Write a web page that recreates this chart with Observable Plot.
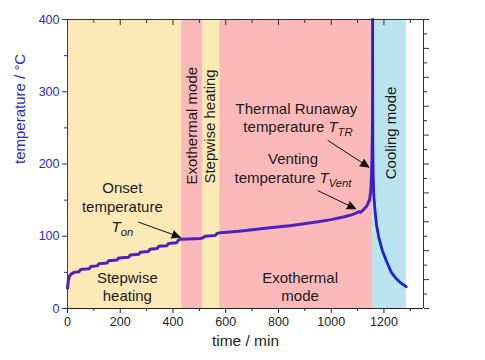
<!DOCTYPE html>
<html><head><meta charset="utf-8">
<script src="https://cdn.jsdelivr.net/npm/d3@7"></script>
<script src="https://cdn.jsdelivr.net/npm/@observablehq/plot@0.6"></script>
<style>body{margin:0;background:#fff;font-family:"Liberation Sans",Arial,sans-serif}</style>
</head><body><div id="chart"></div>
<script>
// Background regions (time in min)
const regionStart = [0, 433, 512, 578, 1157];
const regionEnd   = [433, 512, 578, 1157, 1285];
const regionMode  = ["heating", "exothermal", "heating", "exothermal", "cooling"];

// Temperature curve during heating / exothermal phases
const heatTime = [0,3,8,15,25,44,50,82,88,113,119,150,156,188,194,232,238,270,276,307,313,340,346,377,383,414,421,433,505,514,522,560,568,580,650,750,850,950,1000,1050,1080,1100,1106,1111,1120,1135,1145,1150,1153,1155,1156.5];
const heatTemp = [28,38,45,48,50,51,54,55,58,59,62,63,66,67,70,71,74,75,78,79,82,83,86,87,90,91,95,96,97,98,100,101,104,105,107,111,115,120,123,127,130,133,134,133,136,142,150,162,185,215,250];

// Thermal runaway spike and cooling
const coolTime = [1156.5,1157,1157,1157.3,1157.8,1159,1161,1165,1172,1182,1194,1210,1228,1245,1265,1285];
const coolTemp = [250,330,400,300,230,185,160,140,115,96,80,65,50,42,35,30];

// Ticks
const xTicks = [0,200,400,600,800,1000,1200];
const xMinor = [100,300,500,700,900,1100,1300];
const yTicks = [0,100,200,300,400];
const yMinor = [50,150,250,350];
const rightTicks = [0,40,80,120,160,200,240,280,320,360,400];
const rightMinor = [20,60,100,140,180,220,260,300,340,380];

// Annotation text (horizontal)
const labelText = ["Onset","temperature","T_on","Stepwise","heating","Thermal Runaway","temperature T_TR","Venting","temperature T_Vent","Exothermal","mode"];
const labelTime = [208,208,208,227,227,868,874,855,855,882,882];
const labelTemp = [166,140,112.5,42.5,16.6,276,251,206,180,42,16.6];

// Annotation text (vertical)
const vText = ["Exothermal mode","Stepwise heating","Cooling mode"];
const vTime = [472,541,1228];
const vTemp = [253,252,243];

// Arrows
const arrowT1 = [270, 988, 950];
const arrowY1 = [119.4, 232.5, 163];
const arrowT2 = [428, 1143, 1093];
const arrowY2 = [98.7, 195.6, 138];

const modeColor = {heating: "#fde9b6", exothermal: "#fcb9b9", cooling: "#bae5ef"};
const blue = "#2a2ad2";

const regions = regionStart.map((s, i) => ({start: s, end: regionEnd[i], mode: regionMode[i]}));
const heat = heatTime.map((t, i) => ({t, T: heatTemp[i]}));
const cool = coolTime.map((t, i) => ({t, T: coolTemp[i]}));
const labels = labelText.map((s, i) => ({s, t: labelTime[i], T: labelTemp[i]}));
const vlabels = vText.map((s, i) => ({s, t: vTime[i], T: vTemp[i]}));
const arrows = arrowT1.map((t1, i) => ({t1, y1: arrowY1[i], t2: arrowT2[i], y2: arrowY2[i]}));

const chart = Plot.plot({
  width: 485, height: 360,
  marginLeft: 67, marginRight: 62, marginTop: 19, marginBottom: 52,
  x: {domain: [0, 1350]},
  y: {domain: [0, 400]},
  style: {fontFamily: '"Liberation Sans", Arial, sans-serif', fontSize: "12px", background: "white", color: "#222"},
  marks: [
    Plot.rect(regions, {x1: "start", x2: "end", fill: d => modeColor[d.mode]}),
    Plot.line(heat, {x: "t", y: "T", stroke: "#4e22bd", strokeWidth: 3}),
    Plot.line(cool, {x: "t", y: "T", stroke: "#1f1fe0", strokeWidth: 2.8}),
    Plot.axisX(xTicks, {anchor: "bottom", tickSize: 5, tickPadding: 4, fontSize: 12.5, tickFormat: d => String(d), label: null, color: "#222"}),
    Plot.axisX(xMinor, {anchor: "bottom", tickSize: 3, tickFormat: () => "", label: null, color: "#222"}),
    Plot.axisX(xTicks, {anchor: "top", tickSize: -5, tickFormat: () => "", label: null, color: "#333"}),
    Plot.axisX(xMinor, {anchor: "top", tickSize: -3, tickFormat: () => "", label: null, color: "#333"}),
    Plot.axisY(yTicks, {anchor: "left", tickSize: 5, tickPadding: 3, fontSize: 12.5, label: null, color: blue}),
    Plot.axisY(yMinor, {anchor: "left", tickSize: 3, tickFormat: () => "", label: null, color: blue}),
    Plot.axisY(rightTicks, {anchor: "right", tickSize: 5, tickFormat: () => "", label: null, color: "#333"}),
    Plot.axisY(rightMinor, {anchor: "right", tickSize: 3, tickFormat: () => "", label: null, color: "#333"}),
    Plot.ruleY([400], {stroke: "#333"}),
    Plot.ruleX([1350], {stroke: "#333"}),
    Plot.ruleY([0], {stroke: "#222"}),
    Plot.ruleX([0], {stroke: blue}),
    Plot.text(labels, {x: "t", y: "T", text: "s", fontSize: 15, fill: "#1a1a1a"}),
    Plot.text(vlabels, {x: "t", y: "T", text: "s", fontSize: 15, fill: "#1a1a1a", rotate: -90}),
    Plot.arrow(arrows, {x1: "t1", y1: "y1", x2: "t2", y2: "y2", stroke: "#111", strokeWidth: 1, headLength: 14, headAngle: 50}),
    Plot.text(["time / min"], {frameAnchor: "bottom", dy: 37, fontSize: 15.5, fill: "#222"}),
    Plot.text(["temperature / °C"], {frameAnchor: "left", dx: -47, rotate: -90, fontSize: 15, fill: blue})
  ]
});

// subscripts and filled arrowheads
chart.querySelectorAll("text").forEach(el => {
  const m = el.textContent.match(/^(.*?)T_(\w+)$/);
  if (!m) return;
  el.textContent = "";
  const ns = "http://www.w3.org/2000/svg";
  if (m[1]) { const a = document.createElementNS(ns, "tspan"); a.textContent = m[1]; el.appendChild(a); }
  const b = document.createElementNS(ns, "tspan"); b.textContent = "T"; b.setAttribute("font-style", "italic"); el.appendChild(b);
  const c = document.createElementNS(ns, "tspan"); c.textContent = m[2]; c.setAttribute("font-style", "italic");
  c.setAttribute("font-size", "75%"); c.setAttribute("dy", "0.35em"); el.appendChild(c);
});
chart.querySelectorAll('g[aria-label="arrow"] path').forEach(p => p.setAttribute("fill", "#111"));

document.getElementById("chart").appendChild(chart);
</script>
</body></html>
